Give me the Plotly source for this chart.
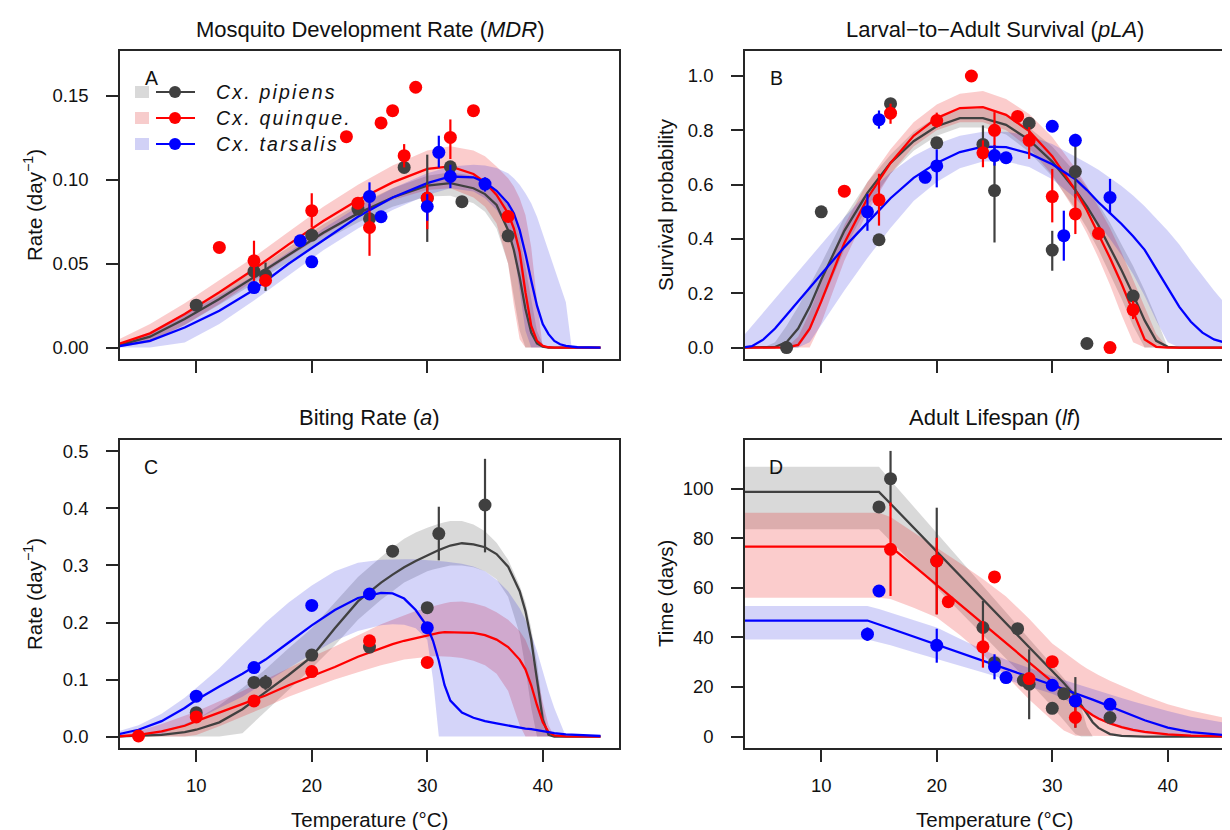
import plotly.graph_objects as go

W, H = 1230, 830

# ------------------------------------------------------------------ shared
species = ["Cx. pipiens", "Cx. quinque.", "Cx. tarsalis"]
line_colors = ["#404040", "#ff0000", "#0000ff"]
band_colors = ["rgba(64,64,64,0.2)", "rgba(235,0,0,0.2)", "rgba(0,0,220,0.17)"]
legend_squares = ["#d9d9d9", "#f7cccc", "#d1d1f6"]
xticks = [10, 20, 30, 40]

# ------------------------------------------------------------------ Panel A : MDR
A_T = [3, 6, 9, 12, 15, 18, 21, 24, 27, 30, 32, 34, 35, 36, 37, 37.5, 38, 38.5, 39, 39.5,
       40, 40.5, 41, 41.5, 42, 42.5, 43, 45]
A_pip_mean = [0.0008, 0.0065, 0.017, 0.029, 0.042, 0.0555, 0.0685, 0.080, 0.0895, 0.0965, 0.098, 0.095,
              0.0915, 0.085, 0.070, 0.058, 0.042, 0.023, 0.009, 0.0025, 0.0006, 0, 0, 0, 0, 0, 0, 0]
A_pip_lo = [0, 0.004, 0.0135, 0.0255, 0.038, 0.051, 0.0635, 0.0745, 0.084, 0.090, 0.0905, 0.086, 0.081,
            0.071, 0.050, 0.030, 0.010, 0, 0, 0, 0, 0, 0, 0, 0, 0, 0, 0]
A_pip_hi = [0.0015, 0.009, 0.0205, 0.0325, 0.046, 0.060, 0.0735, 0.0855, 0.095, 0.1025, 0.1045, 0.1025,
            0.0995, 0.094, 0.085, 0.078, 0.066, 0.048, 0.028, 0.010, 0.002, 0, 0, 0, 0, 0, 0, 0]
A_qui_mean = [0.0015, 0.0085, 0.020, 0.033, 0.0467, 0.0615, 0.0755, 0.088, 0.0985, 0.1065, 0.108, 0.1035,
              0.0985, 0.091, 0.080, 0.071, 0.057, 0.033, 0.013, 0.004, 0.001, 0.0002, 0, 0, 0, 0, 0, 0]
A_qui_lo = [0, 0.003, 0.0135, 0.026, 0.040, 0.054, 0.067, 0.079, 0.088, 0.094, 0.095, 0.0895, 0.084,
            0.074, 0.050, 0.025, 0.005, 0, 0, 0, 0, 0, 0, 0, 0, 0, 0, 0]
A_qui_hi = [0.004, 0.014, 0.0265, 0.040, 0.054, 0.069, 0.084, 0.097, 0.1085, 0.1175, 0.120, 0.1175,
            0.114, 0.108, 0.101, 0.096, 0.089, 0.079, 0.060, 0.028, 0, 0, 0, 0, 0, 0, 0, 0]
A_tar_mean = [0.0005, 0.004, 0.012, 0.022, 0.0345, 0.050, 0.064, 0.078, 0.0895, 0.098, 0.102, 0.1015,
              0.0985, 0.0935, 0.086, 0.080, 0.070, 0.056, 0.040, 0.025, 0.014, 0.008, 0.004, 0.002,
              0.001, 0.0005, 0.0002, 0]
A_tar_lo = [0, 0, 0.003, 0.014, 0.028, 0.043, 0.058, 0.071, 0.082, 0.091, 0.095, 0.093, 0.089, 0.082,
            0.070, 0.058, 0.035, 0.010, 0, 0, 0, 0, 0, 0, 0, 0, 0, 0]
A_tar_hi = [0.002, 0.008, 0.020, 0.031, 0.043, 0.057, 0.071, 0.084, 0.095, 0.104, 0.108, 0.109, 0.1085,
            0.107, 0.104, 0.101, 0.097, 0.092, 0.086, 0.078, 0.068, 0.057, 0.048, 0.038, 0.027, 0, 0, 0]

A_pip_pts_T = [10, 15, 16, 20, 24, 25, 28, 30, 32, 33, 37]
A_pip_pts_y = [0.0253, 0.0454, 0.0432, 0.067, 0.0826, 0.0768, 0.1074, 0.089, 0.1078, 0.087, 0.0666]
A_pip_pts_lo = [None, None, 0.0338, None, None, None, None, 0.063, None, None, None]
A_pip_pts_hi = [None, None, 0.0507, None, None, None, None, 0.115, None, None, None]
A_qui_pts_T = [12, 15, 16, 20, 23, 24, 25, 26, 27, 28, 29, 30, 32, 34, 37]
A_qui_pts_y = [0.0597, 0.0517, 0.040, 0.0816, 0.1257, 0.0861, 0.0716, 0.1339, 0.1412, 0.1144, 0.1552,
               0.0891, 0.1253, 0.1412, 0.0782]
A_qui_pts_lo = [None, 0.039, None, 0.0716, None, None, 0.0547, None, None, 0.1074, None, 0.0706, 0.1124,
                None, None]
A_qui_pts_hi = [None, 0.0637, None, 0.092, None, None, 0.0855, None, None, 0.1213, None, 0.097, 0.136,
                None, None]
A_tar_pts_T = [15, 19, 20, 25, 26, 30, 31, 32, 35]
A_tar_pts_y = [0.0358, 0.0637, 0.0511, 0.0901, 0.078, 0.0841, 0.1164, 0.102, 0.0975]
A_tar_pts_lo = [None, None, None, 0.0816, 0.075, 0.0756, 0.1074, 0.095, 0.093]
A_tar_pts_hi = [None, None, None, 0.0985, 0.081, 0.0915, 0.1263, 0.109, 0.1015]

# ------------------------------------------------------------------ Panel B : pLA
B_T = [3, 4, 5, 6, 7, 8, 9, 10, 12, 14, 16, 18, 20, 22, 24, 26, 28, 30, 32, 33, 34, 35, 36, 37, 38,
       39, 40, 41, 42, 43, 44, 45]
B_pip_mean = [0, 0, 0, 0.002, 0.02, 0.07, 0.15, 0.25, 0.43, 0.57, 0.68, 0.76, 0.815, 0.845, 0.845, 0.82,
              0.765, 0.685, 0.58, 0.52, 0.45, 0.37, 0.285, 0.195, 0.10, 0.025, 0.003, 0, 0, 0, 0, 0]
B_pip_lo = [0, 0, 0, 0, 0, 0, 0.06, 0.16, 0.36, 0.52, 0.64, 0.725, 0.78, 0.81, 0.81, 0.785, 0.72, 0.63,
            0.51, 0.44, 0.36, 0.27, 0.18, 0.08, 0, 0, 0, 0, 0, 0, 0, 0]
B_pip_hi = [0, 0, 0, 0.02, 0.08, 0.15, 0.23, 0.31, 0.48, 0.61, 0.71, 0.795, 0.85, 0.88, 0.88, 0.86, 0.81,
            0.74, 0.645, 0.59, 0.53, 0.46, 0.38, 0.30, 0.21, 0.11, 0, 0, 0, 0, 0, 0]
B_qui_mean = [0, 0, 0, 0, 0, 0.01, 0.07, 0.17, 0.385, 0.55, 0.68, 0.78, 0.845, 0.882, 0.885, 0.857, 0.797,
              0.705, 0.58, 0.505, 0.42, 0.33, 0.235, 0.13, 0.03, 0.003, 0, 0, 0, 0, 0, 0]
B_qui_lo = [0, 0, 0, 0, 0, 0, 0, 0.09, 0.32, 0.50, 0.64, 0.74, 0.80, 0.83, 0.83, 0.80, 0.735, 0.635,
            0.50, 0.42, 0.33, 0.23, 0.12, 0.02, 0, 0, 0, 0, 0, 0, 0, 0]
B_qui_hi = [0, 0, 0, 0, 0, 0.04, 0.13, 0.24, 0.45, 0.61, 0.73, 0.83, 0.895, 0.935, 0.945, 0.915, 0.86,
            0.775, 0.66, 0.595, 0.52, 0.44, 0.35, 0.25, 0.15, 0.05, 0, 0, 0, 0, 0, 0]
B_tar_mean = [0.0, 0.005, 0.03, 0.07, 0.12, 0.17, 0.22, 0.27, 0.37, 0.46, 0.55, 0.625, 0.68, 0.72, 0.74,
              0.738, 0.715, 0.675, 0.62, 0.58, 0.535, 0.495, 0.455, 0.41, 0.36, 0.29, 0.22, 0.15, 0.095,
              0.055, 0.03, 0.018]
B_tar_lo = [0, 0, 0, 0, 0, 0, 0.02, 0.08, 0.21, 0.33, 0.44, 0.54, 0.61, 0.66, 0.685, 0.685, 0.665, 0.62,
            0.55, 0.505, 0.455, 0.40, 0.34, 0.27, 0.19, 0.10, 0.02, 0, 0, 0, 0, 0]
B_tar_hi = [0.03, 0.08, 0.13, 0.18, 0.23, 0.28, 0.33, 0.38, 0.48, 0.57, 0.645, 0.705, 0.75, 0.78, 0.795,
            0.795, 0.78, 0.75, 0.705, 0.68, 0.655, 0.625, 0.595, 0.56, 0.52, 0.475, 0.43, 0.38, 0.32,
            0.265, 0.21, 0.16]

B_pip_pts_T = [7, 10, 15, 16, 20, 24, 25, 28, 30, 32, 33, 37]
B_pip_pts_y = [0.0, 0.50, 0.397, 0.898, 0.754, 0.748, 0.578, 0.826, 0.359, 0.648, 0.015, 0.19]
B_pip_pts_lo = [None, None, None, None, None, 0.713, 0.387, None, 0.283, 0.55, None, None]
B_pip_pts_hi = [None, None, None, None, None, 0.818, 0.744, None, 0.43, 0.76, None, None]
B_qui_pts_T = [12, 15, 16, 20, 23, 24, 25, 27, 28, 30, 32, 34, 35, 37]
B_qui_pts_y = [0.576, 0.544, 0.863, 0.836, 1.0, 0.717, 0.80, 0.851, 0.763, 0.556, 0.492, 0.42, 0.0, 0.139]
B_qui_pts_lo = [None, 0.449, 0.824, 0.81, None, 0.664, 0.738, None, 0.695, 0.461, 0.418, None, None, 0.105]
B_qui_pts_hi = [None, 0.64, 0.898, 0.865, None, 0.763, 0.867, None, 0.812, 0.658, 0.566, None, None, 0.172]
B_tar_pts_T = [14, 15, 19, 20, 25, 26, 30, 31, 32, 35]
B_tar_pts_y = [0.50, 0.839, 0.627, 0.669, 0.707, 0.699, 0.815, 0.412, 0.763, 0.553]
B_tar_pts_lo = [0.43, 0.806, 0.605, 0.59, 0.67, None, None, 0.32, 0.74, 0.492]
B_tar_pts_hi = [0.566, 0.873, 0.648, 0.73, 0.745, None, None, 0.504, 0.787, 0.621]

# ------------------------------------------------------------------ Panel C : biting rate
C_T = [3, 5, 7, 9, 10, 12, 14, 16, 18, 20, 22, 24, 26, 27, 28, 29, 30, 30.5, 31, 31.5, 32, 33, 34, 35,
       36, 37, 38, 38.5, 39, 39.5, 40, 40.5, 41, 42, 45]
C_pip_mean = [0.0, 0.001, 0.003, 0.008, 0.012, 0.025, 0.048, 0.078, 0.108, 0.14, 0.19, 0.237, 0.27,
              0.284, 0.297, 0.308, 0.318, 0.322, 0.327, 0.331, 0.335, 0.339, 0.337, 0.332, 0.32, 0.298,
              0.255, 0.22, 0.17, 0.10, 0.03, 0.003, 0, 0, 0]
C_pip_lo = [0, 0, 0, 0, 0, 0, 0.006, 0.045, 0.082, 0.12, 0.16, 0.205, 0.24, 0.255, 0.27, 0.28, 0.29,
            0.293, 0.296, 0.298, 0.30, 0.30, 0.297, 0.29, 0.276, 0.245, 0.18, 0.12, 0.05, 0, 0, 0, 0, 0, 0]
C_pip_hi = [0, 0.003, 0.01, 0.022, 0.03, 0.055, 0.085, 0.118, 0.155, 0.19, 0.235, 0.28, 0.315, 0.332,
            0.347, 0.358, 0.366, 0.37, 0.373, 0.376, 0.378, 0.378, 0.372, 0.36, 0.34, 0.31, 0.265, 0.235,
            0.19, 0.13, 0.05, 0, 0, 0, 0]
C_qui_mean = [0.0, 0.003, 0.009, 0.019, 0.027, 0.042, 0.056, 0.072, 0.090, 0.106, 0.122, 0.140, 0.155,
              0.162, 0.168, 0.173, 0.178, 0.180, 0.182, 0.183, 0.183, 0.183, 0.182, 0.178, 0.170, 0.157,
              0.135, 0.118, 0.09, 0.055, 0.025, 0.008, 0.002, 0.0005, 0]
C_qui_lo = [0, 0, 0, 0, 0.003, 0.018, 0.035, 0.052, 0.07, 0.085, 0.10, 0.113, 0.125, 0.13, 0.135, 0.138,
            0.14, 0.141, 0.141, 0.141, 0.14, 0.138, 0.133, 0.125, 0.11, 0.08, 0.02, 0, 0, 0, 0, 0, 0, 0, 0]
C_qui_hi = [0.001, 0.01, 0.022, 0.036, 0.044, 0.062, 0.08, 0.10, 0.12, 0.14, 0.158, 0.178, 0.197, 0.205,
            0.213, 0.22, 0.226, 0.229, 0.232, 0.234, 0.236, 0.237, 0.234, 0.228, 0.218, 0.205, 0.185,
            0.17, 0.145, 0.11, 0.06, 0.02, 0, 0, 0]
C_tar_mean = [0.003, 0.012, 0.027, 0.05, 0.064, 0.088, 0.11, 0.135, 0.165, 0.195, 0.222, 0.243, 0.252,
              0.251, 0.242, 0.222, 0.193, 0.168, 0.133, 0.09, 0.063, 0.042, 0.033, 0.027, 0.023, 0.019,
              0.016, 0.014, 0.013, 0.011, 0.009, 0.008, 0.006, 0.004, 0.001]
C_tar_lo = [0, 0, 0.005, 0.02, 0.03, 0.05, 0.07, 0.095, 0.12, 0.145, 0.168, 0.185, 0.195, 0.197, 0.196,
            0.19, 0.17, 0.10, 0, 0, 0, 0, 0, 0, 0, 0, 0, 0, 0, 0, 0, 0, 0, 0, 0]
C_tar_hi = [0.008, 0.02, 0.04, 0.068, 0.085, 0.12, 0.16, 0.20, 0.235, 0.265, 0.29, 0.305, 0.31, 0.311,
            0.311, 0.311, 0.31, 0.309, 0.308, 0.307, 0.306, 0.303, 0.298, 0.29, 0.275, 0.255, 0.225,
            0.205, 0.18, 0.15, 0.115, 0.08, 0.05, 0, 0]

C_pip_pts_T = [10, 15, 16, 20, 25, 27, 30, 31, 35]
C_pip_pts_y = [0.042, 0.095, 0.095, 0.143, 0.157, 0.325, 0.226, 0.356, 0.406]
C_pip_pts_lo = [None, None, 0.082, None, None, None, None, 0.309, 0.323]
C_pip_pts_hi = [None, None, 0.108, None, None, None, None, 0.403, 0.487]
C_qui_pts_T = [5, 10, 15, 20, 25, 30]
C_qui_pts_y = [0.001, 0.0345, 0.0626, 0.114, 0.168, 0.13]
C_qui_pts_lo = [None, None, None, None, None, None]
C_qui_pts_hi = [None, None, None, None, None, None]
C_tar_pts_T = [10, 15, 20, 25, 30]
C_tar_pts_y = [0.0708, 0.121, 0.230, 0.250, 0.191]
C_tar_pts_lo = [None, None, None, None, None]
C_tar_pts_hi = [None, None, None, None, None]

# ------------------------------------------------------------------ Panel D : lifespan
D_T = [3, 14, 15, 16, 18, 20, 22, 24, 26, 28, 30, 31, 32, 32.5, 33, 33.5, 34, 35, 36, 37, 38, 40, 42, 45]
D_pip_mean = [98.7, 98.7, 98.7, 93.9, 84.3, 74.7, 65.1, 55.4, 45.8, 36.2, 26.5, 21.6, 16.3, 12.8, 9.0,
              5.8, 3.5, 1.0, 0.3, 0.1, 0, 0, 0, 0]
D_pip_lo = [83.6, 83.6, 83.6, 79.0, 69.5, 60.0, 50.5, 41.0, 31.5, 22.0, 12.0, 6.5, 1.0, 0, 0, 0, 0, 0,
            0, 0, 0, 0, 0, 0]
D_pip_hi = [108.8, 108.8, 108.8, 103.4, 92.8, 82.1, 71.5, 60.8, 50.1, 39.5, 28.8, 23.5, 17.5, 12.0, 4.0,
            0, 0, 0, 0, 0, 0, 0, 0, 0]
D_qui_mean = [76.6, 76.6, 76.6, 76.6, 68.9, 61.1, 53.4, 45.6, 37.9, 30.1, 22.4, 18.2, 14.0, 12.0, 10.2,
              8.6, 7.3, 5.3, 3.8, 2.7, 1.9, 0.9, 0.4, 0.1]
D_qui_lo = [56, 56, 56, 55.5, 52, 48, 41, 33, 24.5, 15, 6.5, 2.5, 0.3, 0, 0, 0, 0, 0, 0, 0, 0, 0, 0, 0]
D_qui_hi = [90.3, 90.3, 90.3, 88.5, 82.5, 76.2, 70, 63.5, 56.5, 47.5, 37.5, 34, 30.5, 29, 27.5, 26, 24.8,
            22.5, 20.5, 18.5, 16.5, 13, 10.5, 7.5]
D_tar_mean = [46.8, 46.8, 45.2, 43.55, 40.3, 37.05, 33.8, 30.55, 27.3, 24.05, 20.8, 19.2, 17.5, 16.7,
              15.8, 14.9, 14.0, 12.2, 10.3, 8.4, 6.6, 3.6, 1.8, 0.6]
D_tar_lo = [39.2, 39.2, 38, 36.8, 34, 31, 28.5, 25.8, 23, 20.3, 17.3, 15.3, 12.5, 11, 9.5, 8, 6.8, 4.8,
            3.2, 2, 1.2, 0.4, 0.1, 0]
D_tar_hi = [52.7, 52.7, 51.5, 50, 47, 44, 39.5, 35, 31, 27.5, 24.3, 22.8, 21.3, 20.6, 19.9, 19.2, 18.5,
            17, 15.6, 14.2, 12.8, 10.3, 8, 5.5]

D_pip_pts_T = [15, 16, 20, 24, 25, 27, 27.5, 28, 30, 31, 32, 35]
D_pip_pts_y = [92.6, 104.0, 70.8, 44.0, 29.8, 43.5, 22.7, 21.1, 11.4, 17.3, 14.4, 7.7]
D_pip_pts_lo = [None, 93.0, 49.3, 33.2, None, None, None, 7.0, None, None, 3.6, None]
D_pip_pts_hi = [None, 115.2, 92.3, 54.7, None, None, None, 35.2, None, None, 24.0, None]
D_qui_pts_T = [16, 20, 21, 24, 25, 28, 30, 32]
D_qui_pts_y = [75.5, 70.8, 54.4, 36.2, 64.4, 23.4, 30.2, 7.7]
D_qui_pts_lo = [56.7, 49.3, None, 27.8, None, None, None, 3.6]
D_qui_pts_hi = [94.4, 80.2, None, 46.6, None, None, None, 14.0]
D_tar_pts_T = [14, 15, 20, 25, 26, 30, 32, 35]
D_tar_pts_y = [41.3, 58.7, 36.8, 28.2, 23.8, 20.7, 14.4, 13.0]
D_tar_pts_lo = [38.6, None, 29.8, 23.1, 21.5, None, None, None]
D_tar_pts_hi = [44.0, None, 43.5, 33.2, 26.0, None, None, None]

# ------------------------------------------------------------------ text
titles = ["Mosquito Development Rate (<i>MDR</i>)",
          "Larval\u2212to\u2212Adult Survival (<i>pLA</i>)",
          "Biting Rate (<i>a</i>)",
          "Adult Lifespan (<i>lf</i>)"]
ytitles = ["Rate (day<sup>\u22121</sup>)", "Survival probability",
           "Rate (day<sup>\u22121</sup>)", "Time (days)"]
letters = ["A", "B", "C", "D"]
xtitle = "Temperature (\u00b0C)"

# ------------------------------------------------------------------ layout helpers
FONT = "Liberation Sans, Arial, Helvetica, sans-serif"
LC = "#262626"
TXT = "#111111"


def px(x):
    return x / W


def py(y):
    return 1 - y / H


PXU = 499 / 43.2  # pixels per degree
boxes = {  # name: (x0, x1, y0, y1) in pixels
    "A": (112, 611, 43, 351),
    "B": (737, 1230, 43, 351),
    "C": (112, 611, 432, 740),
    "D": (737, 1230, 432, 740),
}
yranges = {"A": [-0.0068, 0.1768], "B": [-0.042, 1.092], "C": [-0.02, 0.52], "D": [-4.6, 119.6]}
yticks = {"A": [0, 0.05, 0.10, 0.15], "B": [0, 0.2, 0.4, 0.6, 0.8, 1.0],
          "C": [0, 0.1, 0.2, 0.3, 0.4, 0.5], "D": [0, 20, 40, 60, 80, 100]}
yfmt = {"A": ".2f", "B": ".1f", "C": ".1f", "D": "d"}

panel_data = {
    "A": (A_T, [(A_pip_mean, A_pip_lo, A_pip_hi), (A_qui_mean, A_qui_lo, A_qui_hi), (A_tar_mean, A_tar_lo, A_tar_hi)],
          [(A_pip_pts_T, A_pip_pts_y, A_pip_pts_lo, A_pip_pts_hi), (A_qui_pts_T, A_qui_pts_y, A_qui_pts_lo, A_qui_pts_hi),
           (A_tar_pts_T, A_tar_pts_y, A_tar_pts_lo, A_tar_pts_hi)]),
    "B": (B_T, [(B_pip_mean, B_pip_lo, B_pip_hi), (B_qui_mean, B_qui_lo, B_qui_hi), (B_tar_mean, B_tar_lo, B_tar_hi)],
          [(B_pip_pts_T, B_pip_pts_y, B_pip_pts_lo, B_pip_pts_hi), (B_qui_pts_T, B_qui_pts_y, B_qui_pts_lo, B_qui_pts_hi),
           (B_tar_pts_T, B_tar_pts_y, B_tar_pts_lo, B_tar_pts_hi)]),
    "C": (C_T, [(C_pip_mean, C_pip_lo, C_pip_hi), (C_qui_mean, C_qui_lo, C_qui_hi), (C_tar_mean, C_tar_lo, C_tar_hi)],
          [(C_pip_pts_T, C_pip_pts_y, C_pip_pts_lo, C_pip_pts_hi), (C_qui_pts_T, C_qui_pts_y, C_qui_pts_lo, C_qui_pts_hi),
           (C_tar_pts_T, C_tar_pts_y, C_tar_pts_lo, C_tar_pts_hi)]),
    "D": (D_T, [(D_pip_mean, D_pip_lo, D_pip_hi), (D_qui_mean, D_qui_lo, D_qui_hi), (D_tar_mean, D_tar_lo, D_tar_hi)],
          [(D_pip_pts_T, D_pip_pts_y, D_pip_pts_lo, D_pip_pts_hi), (D_qui_pts_T, D_qui_pts_y, D_qui_pts_lo, D_qui_pts_hi),
           (D_tar_pts_T, D_tar_pts_y, D_tar_pts_lo, D_tar_pts_hi)]),
}

fig = go.Figure()
layout = {}
annotations = []
shapes = []

for i, name in enumerate(["A", "B", "C", "D"]):
    k = "" if i == 0 else str(i + 1)
    xa, ya = "x" + k, "y" + k
    x0, x1, y0, y1 = boxes[name]
    right = name in ("B", "D")
    bottom = name in ("C", "D")
    xr = [3.4, 3.4 + (x1 - x0) / PXU]
    layout["xaxis" + k] = dict(
        domain=[px(x0), px(x1)], range=xr, anchor=ya, showline=True, linecolor=LC, linewidth=1.5,
        mirror=True, ticks="outside", ticklen=12, tickwidth=1.5, tickcolor=LC, tickvals=xticks,
        showticklabels=bottom, showgrid=False, zeroline=False,
        tickfont=dict(family=FONT, size=18.5, color=TXT), ticklabelstandoff=8)
    layout["yaxis" + k] = dict(
        domain=[py(y1), py(y0)], range=yranges[name], anchor=xa, showline=True, linecolor=LC,
        linewidth=1.5, mirror=(not right), ticks="outside", ticklen=12, tickwidth=1.5, tickcolor=LC,
        tickvals=yticks[name], tickformat=yfmt[name], showgrid=False, zeroline=False,
        tickfont=dict(family=FONT, size=18.5, color=TXT), ticklabelstandoff=14)

    T, curves, pts = panel_data[name]
    # credible bands
    for s, (m, lo, hi) in enumerate(curves):
        fig.add_trace(go.Scatter(
            x=list(T) + list(T)[::-1], y=list(hi) + list(lo)[::-1], fill="toself",
            fillcolor=band_colors[s], line=dict(width=0), mode="lines", xaxis=xa, yaxis=ya,
            hoverinfo="skip", showlegend=False))
    # mean curves
    for s, (m, lo, hi) in enumerate(curves):
        fig.add_trace(go.Scatter(
            x=T, y=m, mode="lines", line=dict(color=line_colors[s], width=2.3), xaxis=xa, yaxis=ya,
            name=species[s], showlegend=False))
    # data points with error bars
    for s, (pt, pyv, plo, phi) in enumerate(pts):
        up = [(h - v) if h is not None else 0 for v, h in zip(pyv, phi)]
        dn = [(v - l) if l is not None else 0 for v, l in zip(pyv, plo)]
        fig.add_trace(go.Scatter(
            x=pt, y=pyv, mode="markers", marker=dict(color=line_colors[s], size=13, line=dict(width=0)),
            error_y=dict(type="data", symmetric=False, array=up, arrayminus=dn,
                         color=line_colors[s], thickness=2.2, width=0),
            xaxis=xa, yaxis=ya, name=species[s], showlegend=False, cliponaxis=False))

    cx = x0 + 499 / 2
    # title
    annotations.append(dict(text=titles[i], x=px(cx), y=py(y0 - 22), xref="paper", yref="paper",
                            showarrow=False, xanchor="center", yanchor="middle",
                            font=dict(family=FONT, size=22, color=TXT)))
    # y title
    ytx = x0 - 87 if not right else x0 - 80
    annotations.append(dict(text=ytitles[i], x=px(ytx), y=py((y0 + y1) / 2), xref="paper",
                            yref="paper", showarrow=False, textangle=-90, xanchor="center",
                            yanchor="middle", font=dict(family=FONT, size=20.5, color=TXT)))
    # panel letter
    annotations.append(dict(text=letters[i], x=px(x0 + 31), y=py(y0 + 27), xref="paper", yref="paper",
                            showarrow=False, xanchor="center", yanchor="middle",
                            font=dict(family=FONT, size=19.5, color=TXT)))
    if bottom:
        annotations.append(dict(text=xtitle, x=px(cx), y=py(811), xref="paper", yref="paper",
                                showarrow=False, xanchor="center", yanchor="middle",
                                font=dict(family=FONT, size=20.5, color=TXT)))

# legend in panel A (drawn as paper-coordinate decorations)
for s in range(3):
    ry = 84 + 26 * s
    shapes.append(dict(type="rect", xref="paper", yref="paper", x0=px(127), x1=px(141),
                       y0=py(ry + 6), y1=py(ry - 6), fillcolor=legend_squares[s], line=dict(width=0)))
    shapes.append(dict(type="line", xref="paper", yref="paper", x0=px(148), x1=px(187),
                       y0=py(ry), y1=py(ry), line=dict(color=line_colors[s], width=2.2)))
    shapes.append(dict(type="circle", xref="paper", yref="paper", x0=px(161), x1=px(173),
                       y0=py(ry + 6), y1=py(ry - 6), fillcolor=line_colors[s], line=dict(width=0)))
    annotations.append(dict(text='<span style="letter-spacing:2.2px"><i>' + species[s] + '</i></span>',
                            x=px(206), y=py(ry), xref="paper", yref="paper", showarrow=False,
                            xanchor="left", yanchor="middle",
                            font=dict(family=FONT, size=19.5, color=TXT)))

fig.update_layout(
    width=W, height=H, margin=dict(l=0, r=0, t=0, b=0), plot_bgcolor="white", paper_bgcolor="white",
    showlegend=False, annotations=annotations, shapes=shapes, font=dict(family=FONT), **layout)

fig.write_html("out.html")
